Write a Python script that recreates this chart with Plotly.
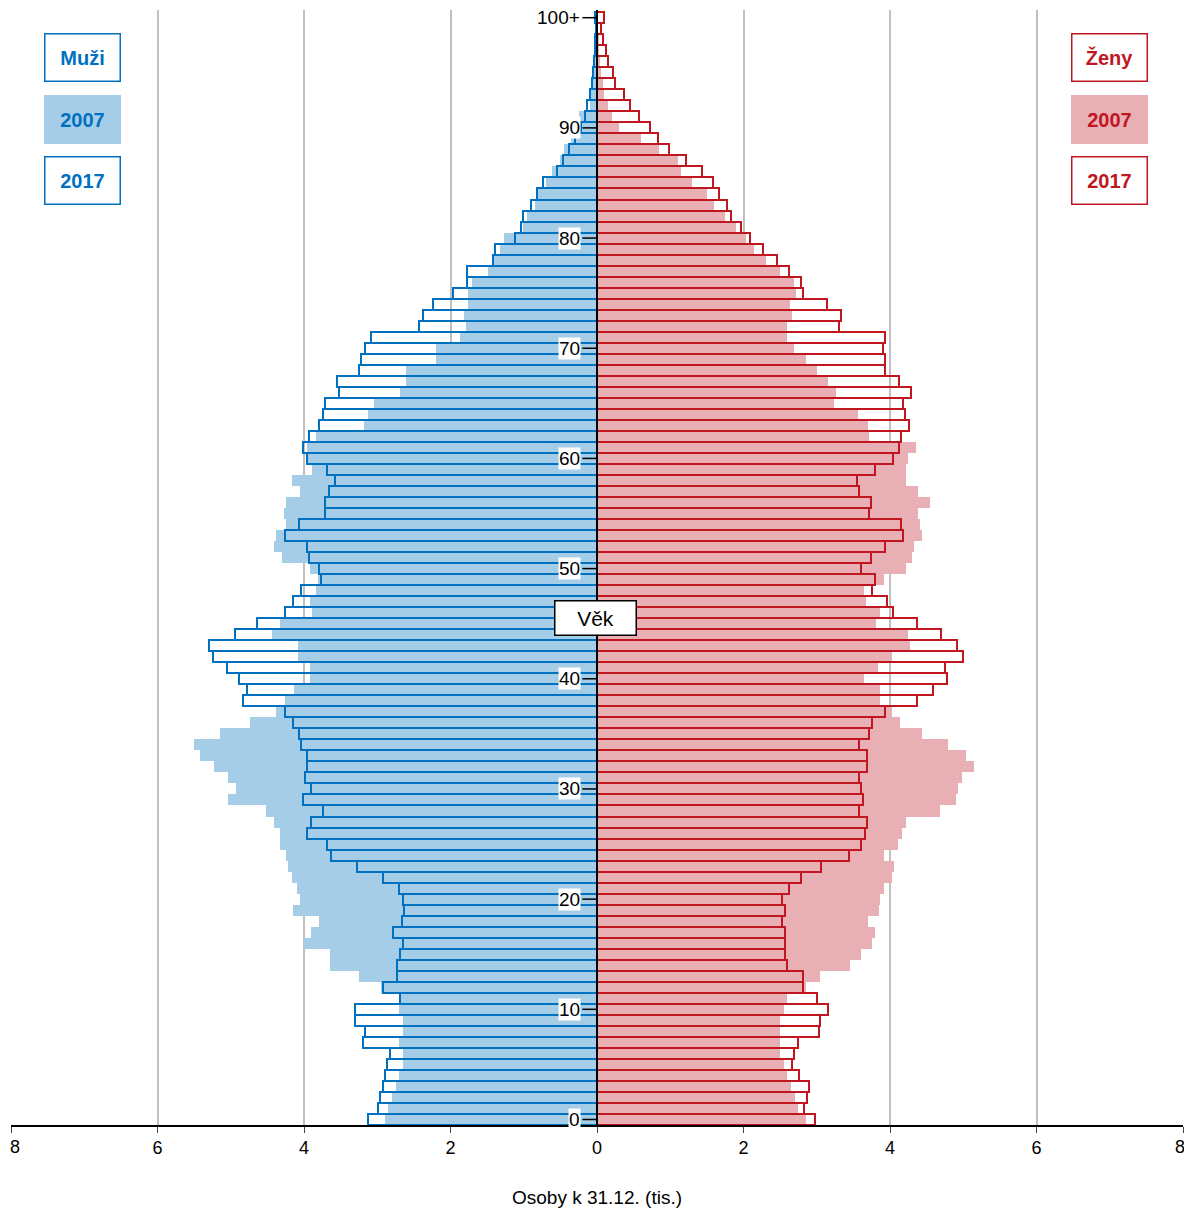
import plotly.graph_objects as go

ages = list(range(101))
age_labels = ["0", "10", "20", "30", "40", "50", "60", "70", "80", "90", "100+"]
x_ticks = [-8, -6, -4, -2, 0, 2, 4, 6, 8]
x_tick_text = ["8", "6", "4", "2", "0", "2", "4", "6", "8"]

men_2017 = [3.13,2.99,2.96,2.92,2.89,2.87,2.83,3.19,3.17,3.30,3.30,2.69,2.92,2.73,2.73,2.69,2.65,2.78,2.66,2.63,
            2.65,2.70,2.92,3.28,3.63,3.69,3.96,3.90,3.74,4.01,3.90,3.99,3.96,3.96,4.04,4.07,4.15,4.26,4.83,4.78,
            4.89,5.05,5.24,5.30,4.94,4.64,4.26,4.15,4.04,3.77,3.80,3.93,3.96,4.26,4.07,3.71,3.71,3.66,3.58,3.69,
            3.96,4.01,3.93,3.80,3.74,3.71,3.52,3.55,3.25,3.22,3.17,3.09,2.43,2.38,2.24,1.97,1.78,1.78,1.42,1.39,
            1.12,1.04,1.01,0.90,0.82,0.74,0.55,0.46,0.38,0.30,0.22,0.16,0.14,0.10,0.07,0.05,0.04,0.03,0.03,0.02,0.03]
men_2007 = [2.90,2.85,2.80,2.75,2.70,2.65,2.65,2.70,2.65,2.65,2.70,2.70,2.95,3.25,3.65,3.65,4.00,3.90,3.80,4.15,
            4.05,4.10,4.16,4.22,4.25,4.33,4.33,4.41,4.52,5.04,4.93,5.04,5.23,5.42,5.50,5.15,4.74,4.38,4.26,4.14,
            3.92,3.92,4.08,4.08,4.44,4.33,3.89,3.92,3.84,3.81,3.92,4.30,4.41,4.38,4.25,4.27,4.25,4.05,4.16,3.89,
            3.95,3.96,3.84,3.18,3.13,3.04,2.69,2.61,2.61,2.20,2.20,1.87,1.79,1.82,1.76,1.76,1.71,1.49,1.41,1.32,
            1.27,1.01,0.95,0.85,0.80,0.70,0.62,0.50,0.45,0.35,0.28,0.25,0.10,0.08,0.06,0.04,0.03,0.02,0.01,0.01,0.01]
women_2017 = [2.97,2.82,2.87,2.89,2.76,2.66,2.69,2.74,3.03,3.05,3.15,3.00,2.81,2.81,2.60,2.57,2.57,2.57,2.52,2.57,
              2.52,2.62,2.79,3.06,3.44,3.61,3.66,3.69,3.58,3.63,3.61,3.58,3.69,3.69,3.58,3.71,3.76,3.93,4.37,4.59,
              4.78,4.75,5.00,4.92,4.70,4.37,4.04,3.96,3.76,3.79,3.61,3.74,3.93,4.18,4.15,3.71,3.74,3.58,3.55,3.79,
              4.04,4.12,4.15,4.26,4.20,4.18,4.28,4.12,3.93,3.93,3.90,3.93,3.30,3.33,3.14,2.81,2.79,2.62,2.46,2.26,
              2.09,1.97,1.83,1.77,1.67,1.58,1.43,1.22,0.98,0.83,0.73,0.57,0.45,0.37,0.25,0.22,0.15,0.12,0.08,0.06,0.10]
women_2007 = [2.85,2.75,2.70,2.65,2.60,2.55,2.50,2.50,2.50,2.50,2.55,2.60,2.85,3.05,3.45,3.60,3.75,3.80,3.70,3.85,
              3.86,3.92,4.03,4.05,3.92,4.11,4.16,4.22,4.68,4.90,4.93,4.98,5.15,5.04,4.79,4.44,4.14,4.03,3.86,3.86,
              3.64,3.84,4.03,4.27,4.24,3.81,3.86,3.67,3.64,3.92,4.22,4.30,4.33,4.44,4.41,4.38,4.55,4.38,4.22,4.22,
              4.24,4.35,3.72,3.70,3.56,3.24,3.26,3.15,3.01,2.85,2.69,2.60,2.60,2.66,2.63,2.72,2.69,2.50,2.31,2.14,
              2.03,1.90,1.75,1.60,1.50,1.30,1.15,1.10,0.85,0.60,0.30,0.20,0.15,0.10,0.08,0.05,0.04,0.03,0.02,0.01,0.01]

BLUE, BLUE_F = "#0070c0", "#a6cde8"
RED, RED_F = "#c0161f", "#e8b0b4"

fig = go.Figure()
fig.add_bar(y=ages, x=[-v for v in men_2007], orientation="h", width=1,
            marker=dict(color=BLUE_F, line=dict(width=0)), name="Muži 2007")
fig.add_bar(y=ages, x=women_2007, orientation="h", width=1,
            marker=dict(color=RED_F, line=dict(width=0)), name="Ženy 2007")
fig.add_bar(y=ages, x=[-v for v in men_2017], orientation="h", width=1,
            marker=dict(color="rgba(0,0,0,0)", line=dict(color=BLUE, width=2)), name="Muži 2017")
fig.add_bar(y=ages, x=women_2017, orientation="h", width=1,
            marker=dict(color="rgba(0,0,0,0)", line=dict(color=RED, width=2)), name="Ženy 2017")

fig.add_vline(x=0, line=dict(color="black", width=2))

font = "Arial, Liberation Sans, sans-serif"
ann = []
for i, lab in enumerate(age_labels):
    ann.append(dict(x=-0.22, y=i * 10, xref="x", yref="y", text=lab, showarrow=False,
                    xanchor="right", yanchor="middle", bgcolor="white",
                    font=dict(size=19, color="black", family=font), borderpad=0))
for i in range(11):
    fig.add_shape(type="line", x0=-0.2, x1=0, y0=i * 10, y1=i * 10, xref="x", yref="y",
                  line=dict(color="black", width=1.5))
# edge tick labels (plotly drops the ones touching the page edge)
ann.append(dict(x=x_ticks[0], y=0, xref="x", yref="paper", yshift=-10, xshift=-3, text=x_tick_text[0],
                showarrow=False, xanchor="left", yanchor="top", font=dict(size=18, color="black", family=font)))
ann.append(dict(x=x_ticks[-1], y=0, xref="x", yref="paper", yshift=-10, xshift=4, text=x_tick_text[-1],
                showarrow=False, xanchor="right", yanchor="top", font=dict(size=18, color="black", family=font)))
ann.append(dict(x=-0.02, y=45.5, xref="x", yref="y", text="Věk", showarrow=False,
                bgcolor="white", bordercolor="black", borderwidth=1.5, borderpad=5,
                font=dict(size=21, color="black", family=font), width=70))

def box(xp, yp, text, color, bg):
    return dict(x=xp, y=yp, xref="paper", yref="paper", text="<b>%s</b>" % text, showarrow=False,
                xanchor="center", yanchor="middle", bgcolor=bg, bordercolor=color if bg == "white" else bg,
                borderwidth=1.5, width=72, height=44, font=dict(size=20, color=color, family=font))

ann += [box(0.0606, 0.957, "Muži", BLUE, "white"), box(0.0606, 0.902, "2007", BLUE, BLUE_F),
        box(0.0606, 0.8475, "2017", BLUE, "white"),
        box(0.9377, 0.957, "Ženy", RED, "white"), box(0.9377, 0.902, "2007", RED, RED_F),
        box(0.9377, 0.8475, "2017", RED, "white")]

fig.update_layout(
    width=1184, height=1200, barmode="overlay", bargap=0, showlegend=False,
    plot_bgcolor="white", paper_bgcolor="white",
    margin=dict(l=3, r=9, t=2, b=83, autoexpand=False),
    font=dict(family=font, color="black"),
    annotations=ann,
    xaxis=dict(range=[-8, 8], tickvals=x_ticks,
               ticktext=[""] + x_tick_text[1:-1] + [""], automargin=False,
               showgrid=True, gridcolor="#c0c0c0", gridwidth=2, zeroline=False,
               showline=True, linecolor="black", linewidth=1.5, ticks="outside", ticklen=6,
               tickfont=dict(size=18), title=dict(text="Osoby k 31.12. (tis.)", font=dict(size=19), standoff=41)),
    yaxis=dict(range=[-0.5, 100.7], showticklabels=False, showgrid=False, zeroline=False, automargin=False),
)
fig.write_html("out.html")
